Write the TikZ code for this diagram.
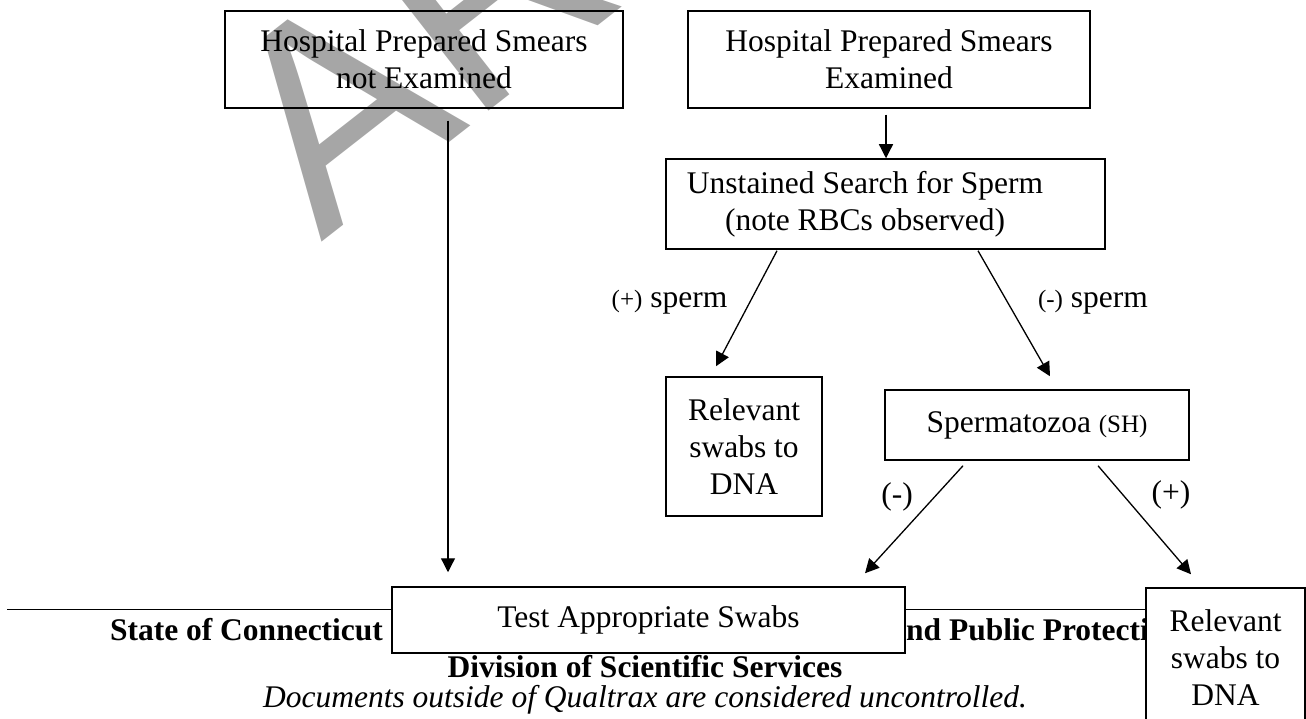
\documentclass[tikz,border=0pt]{standalone}
\usepackage{fontspec}
\setmainfont{Liberation Serif}
\newfontfamily\wmfont{Liberation Sans}
\usetikzlibrary{arrows.meta,calc}
\definecolor{wmgray}{RGB}{166,166,166}
\begin{document}
\begin{tikzpicture}[x=1pt,y=-1pt,
  txt/.style={font=\fontsize{31.5}{37}\selectfont},
  box/.style={draw,line width=1.5pt,inner sep=0pt,align=center,font=\fontsize{31.5}{37}\selectfont},
  foot/.style={font=\bfseries\fontsize{31.5}{37}\selectfont},
  arr/.style={line width=1.3pt,-{Triangle[length=14pt,width=14pt]}}]
\useasboundingbox (0,0) rectangle (1306,719);
% watermark
\node[anchor=base west,rotate=38,inner sep=0pt,text=wmgray,font=\wmfont\fontsize{285}{285}\selectfont] (wm) at (321,243) {ARCHIVED};
% footer (behind boxes)
\draw[line width=1pt] (7,609) -- (1150,609);
\node[foot] (st) at (246.5,630) {State of Connecticut};
\node[foot,anchor=west,inner sep=0pt] (pp) at (906,630) {nd Public Protecti};
\node[foot] (dv) at (645,667) {Division of Scientific Services};
\node[font=\itshape\fontsize{31.5}{37}\selectfont] (dc) at (645,700) {Documents outside of Qualtrax are considered uncontrolled.};
% boxes
\node[box,minimum width=398pt,minimum height=97pt] (A) at (424,59.5) {Hospital Prepared Smears\\not Examined};
\node[box,minimum width=402pt,minimum height=97pt] (B) at (889,59.5) {Hospital Prepared Smears\\Examined};
\node[box,minimum width=439pt,minimum height=90pt] (C) at (885.5,204) {Unstained Search for Sperm\hspace*{41pt}\\(note RBCs observed)\hspace*{41pt}};
\node[box,minimum width=156pt,minimum height=139pt] (D) at (744,446.5) {Relevant\\swabs to\\DNA};
\node[box,minimum width=304pt,minimum height=70pt] (E) at (1037,425) {Spermatozoa {\fontsize{25}{30}\selectfont(SH)}};
\node[box,fill=white,minimum width=513pt,minimum height=66pt] (F) at (648.5,620) {Test Appropriate Swabs};
\node[box,fill=white,minimum width=159pt,minimum height=139pt] (G) at (1225.5,657.5) {Relevant\\swabs to\\DNA};
% labels
\node[txt] (lp) at (669.5,302) {{\fontsize{25}{30}\selectfont(+)} sperm};
\node[txt] (lm) at (1093,302) {{\fontsize{25}{30}\selectfont(-)} sperm};
\node[txt] (ln) at (897,497) {(-)};
\node[txt] (lq) at (1171,495) {(+)};
% arrows
\draw[arr] ($(A.south)+(24,12)$) -- ($(F.north)+(-200.5,-14)$);
\draw[arr] ($(B.south)+(-3,6)$) -- ($(C.north)+(0.5,0)$);
\draw[arr] ($(C.south)+(-108.5,1)$) -- ($(D.north)+(-28,-10)$);
\draw[arr] ($(C.south)+(92.5,1)$) -- ($(E.north)+(13,-13)$);
\draw[arr] ($(E.south)+(-74,5)$) -- ($(F.north)+(216.5,-13)$);
\draw[arr] ($(E.south)+(61,5)$) -- ($(G.north)+(-34.5,-13)$);
\end{tikzpicture}
\end{document}
